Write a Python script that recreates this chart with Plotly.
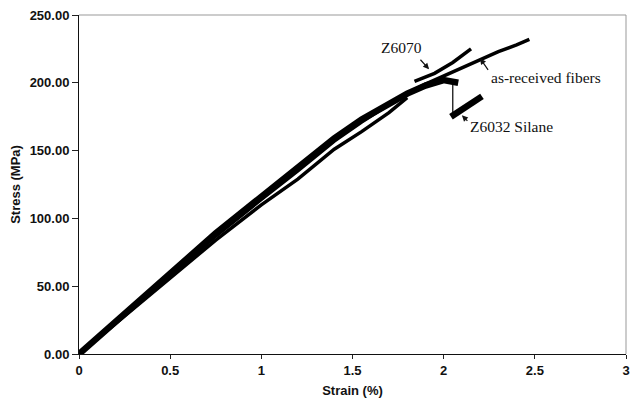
import plotly.graph_objects as go

# ---- data ----
z6032_strain = [0, 0.25, 0.5, 0.75, 1.0, 1.2, 1.4, 1.55, 1.7, 1.8, 1.9, 2.0, 2.08]
z6032_stress = [0, 30, 60, 89, 116, 138, 159, 173, 185, 192, 198, 202, 200]
z6032_drop_strain = [2.05, 2.05]
z6032_drop_stress = [200, 175]
z6032_post_strain = [2.04, 2.1, 2.16, 2.21]
z6032_post_stress = [175, 180, 185, 190]

asrec_strain = [0, 0.25, 0.5, 0.75, 1.0, 1.2, 1.4, 1.55, 1.7, 1.8, 1.9, 2.0, 2.1, 2.2, 2.3, 2.4, 2.47]
asrec_stress = [0, 29, 58, 87, 114, 135, 157, 171, 184, 192, 199, 205, 211, 217, 223, 228, 232]

z6070_strain = [0, 0.25, 0.5, 0.75, 1.0, 1.2, 1.4, 1.55, 1.7, 1.8, None, 1.84, 1.95, 2.05, 2.15]
z6070_stress = [0, 28, 56, 84, 110, 129, 151, 164, 178, 189, None, 201, 207, 215, 225]

x_ticks = [0, 0.5, 1, 1.5, 2, 2.5, 3]
y_ticks = [0, 50, 100, 150, 200, 250]

fig = go.Figure()
fig.add_trace(go.Scatter(x=z6070_strain, y=z6070_stress, mode="lines",
                         line=dict(color="black", width=3.5), connectgaps=False, name="Z6070"))
fig.add_trace(go.Scatter(x=asrec_strain, y=asrec_stress, mode="lines",
                         line=dict(color="black", width=3.5), name="as-received fibers"))
fig.add_trace(go.Scatter(x=z6032_strain, y=z6032_stress, mode="lines",
                         line=dict(color="black", width=6.5), name="Z6032 Silane"))
fig.add_trace(go.Scatter(x=z6032_drop_strain, y=z6032_drop_stress, mode="lines",
                         line=dict(color="black", width=1.2), showlegend=False))
fig.add_trace(go.Scatter(x=z6032_post_strain, y=z6032_post_stress, mode="lines",
                         line=dict(color="black", width=6.5), showlegend=False))

tickfont = dict(family="Liberation Sans, Arial", size=13, color="#111", weight="bold")
fig.update_xaxes(range=[0, 3], tickvals=x_ticks, ticks="outside", ticklen=4, tickcolor="#222",
                 showline=True, linecolor="#111", linewidth=1, showgrid=False, zeroline=False,
                 tickfont=tickfont, automargin=False, ticklabeloverflow="allow",
                 title=dict(text="Strain (%)", font=tickfont, standoff=9))
fig.update_yaxes(range=[0, 250], tickvals=y_ticks, tickformat=".2f", ticks="outside", ticklen=6,
                 tickcolor="#222", showline=True, linecolor="#111", linewidth=1, showgrid=False,
                 zeroline=False, tickfont=tickfont, automargin=False, ticklabeloverflow="allow",
                 title=dict(text="Stress (MPa)", font=tickfont, standoff=10))

# grey top/right frame
fig.add_shape(type="line", xref="paper", yref="paper", x0=0, x1=1, y0=1, y1=1,
              line=dict(color="#999", width=1))
fig.add_shape(type="line", xref="paper", yref="paper", x0=1, x1=1, y0=0, y1=1,
              line=dict(color="#999", width=1))

afont = dict(family="Liberation Serif, Times New Roman", size=15.5, color="#111")
fig.add_annotation(x=1.77, y=226, text="Z6070", showarrow=False, font=afont)
fig.add_annotation(x=2.56, y=204, text="as-received fibers", showarrow=False, font=afont)
fig.add_annotation(x=2.37, y=168, text="Z6032 Silane", showarrow=False, font=afont)
arrow = dict(showarrow=True, text="", arrowhead=2, arrowsize=1, arrowwidth=1.2,
             arrowcolor="#111", standoff=0, axref="pixel", ayref="pixel")
fig.add_annotation(x=1.92, y=210, ax=-10, ay=-11, **arrow)
fig.add_annotation(x=2.2, y=218, ax=9, ay=13, **arrow)
fig.add_annotation(x=2.10, y=176, ax=7, ay=7, **arrow)

# page body has an 8px margin, so the figure is sized so the page does not overflow
fig.update_layout(width=622, height=395, margin=dict(l=71, r=4, t=7, b=49),
                  plot_bgcolor="white", paper_bgcolor="white", showlegend=False)
fig.write_html("out.html")
